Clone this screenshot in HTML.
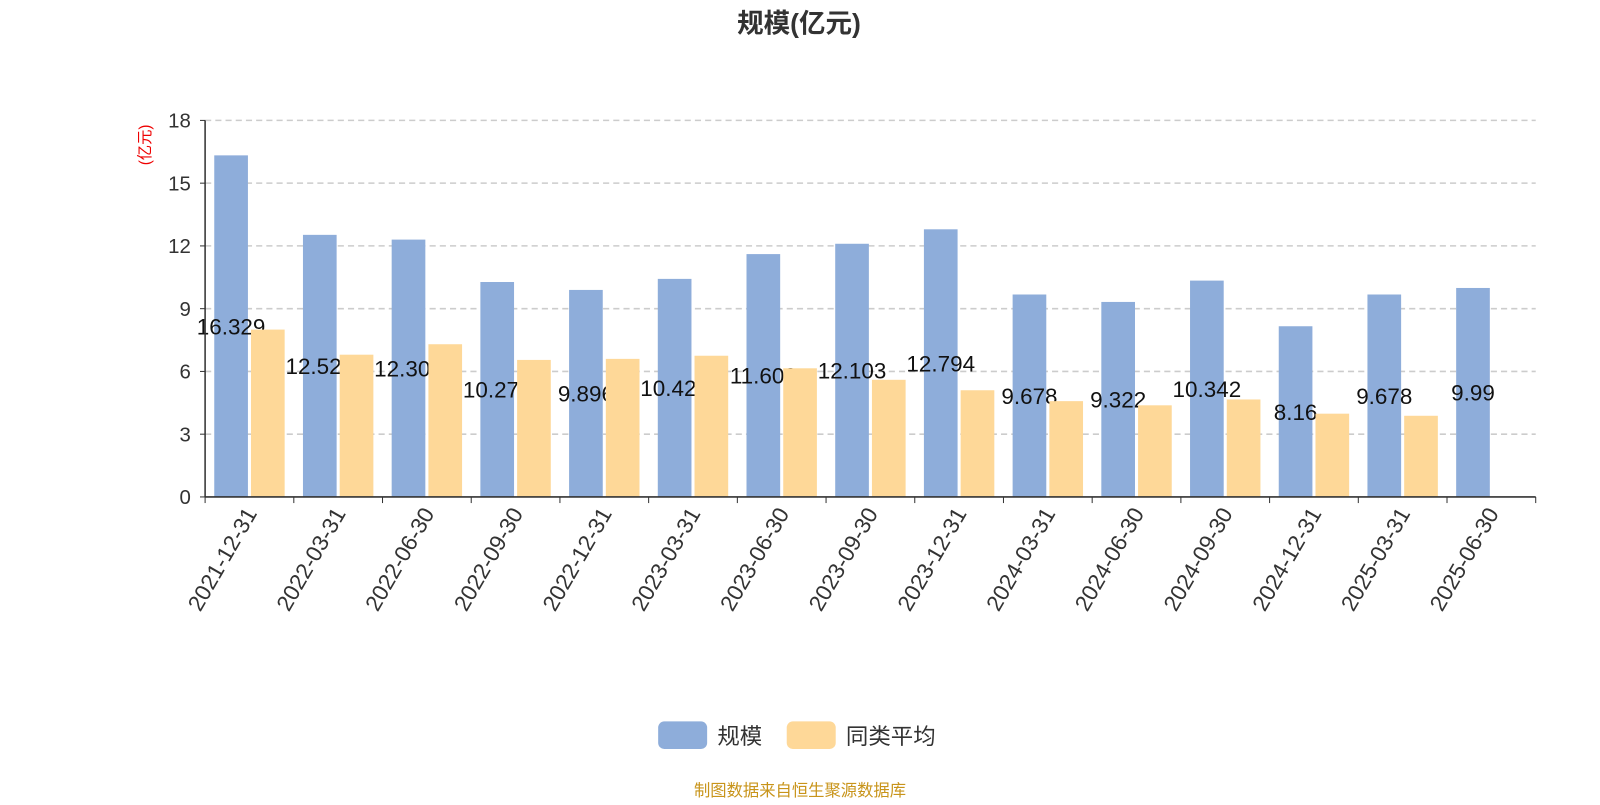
<!DOCTYPE html>
<html><head><meta charset="utf-8"><style>
body{margin:0;background:#fff;width:1600px;height:800px;overflow:hidden;font-family:"Liberation Sans","Noto Sans CJK SC",sans-serif}
</style></head><body>
<svg id="c" width="1600" height="800" viewBox="0 0 1568 784" xmlns="http://www.w3.org/2000/svg" font-family="Liberation Sans, Noto Sans CJK SC, sans-serif">
<text x="783" y="32" text-anchor="middle" font-size="26" font-weight="bold" fill="#333">规模(亿元)</text>
<text transform="translate(147,142) rotate(-90)" text-anchor="middle" font-size="15" fill="#e00">(亿元)</text>
<g id="grid"></g><g id="marks"></g><g id="axes"></g>
<g>
<rect x="645" y="707" width="48" height="27" rx="6" fill="#8eadda"/>
<text x="703" y="729" font-size="22" fill="#333">规模</text>
<rect x="771" y="707" width="48" height="27" rx="6" fill="#fed898"/>
<text x="829" y="729" font-size="22" fill="#333">同类平均</text>
</g>
<text x="784" y="780" text-anchor="middle" font-size="16" fill="#c8941a">制图数据来自恒生聚源数据库</text>
</svg>
<script>
const categories=["2021-12-31","2022-03-31","2022-06-30","2022-09-30","2022-12-31","2023-03-31","2023-06-30","2023-09-30","2023-12-31","2024-03-31","2024-06-30","2024-09-30","2024-12-31","2025-03-31","2025-06-30"];
const scaleValues=[16.329,12.529,12.302,10.275,9.896,10.424,11.609,12.103,12.794,9.678,9.322,10.342,8.16,9.678,9.99];
const avgValues=[8.0,6.8,7.3,6.55,6.6,6.75,6.15,5.6,5.1,4.58,4.38,4.66,3.98,3.88,null];
const yTicks=[0,3,6,9,12,15,18];
const NS="http://www.w3.org/2000/svg";
const X0=201,X1=1505,Y0=487,Y1=118,YMAX=18;
const band=(X1-X0)/categories.length;
function y(v){return Y0-(v/YMAX)*(Y0-Y1);}
function xb(i){return X0+i*band;}
function mk(t,a,p){const e=document.createElementNS(NS,t);for(const k in a)e.setAttribute(k,a[k]);p.appendChild(e);return e;}
const grid=document.getElementById('grid'),marks=document.getElementById('marks'),axes=document.getElementById('axes');
yTicks.forEach(t=>{
 if(t>0){const l=mk('line',{x1:X0,x2:X1,y1:y(t),y2:y(t),stroke:'#ccc','stroke-dasharray':'6,4','stroke-width':1.5},grid);
 
 }
 const tl=mk('text',{x:X0-14,y:y(t)+7,'text-anchor':'end','font-size':20,fill:'#333'},axes);tl.textContent=t;
 
 
 mk('line',{x1:X0-5,x2:X0,y1:y(t),y2:y(t),stroke:'#333'},axes);
});
mk('line',{x1:X0,x2:X0,y1:Y1,y2:Y0,stroke:'#333','stroke-width':1.5},axes);
mk('line',{x1:X0,x2:X1,y1:Y0,y2:Y0,stroke:'#333','stroke-width':1.5},axes);
for(let i=0;i<=categories.length;i++)mk('line',{x1:xb(i),x2:xb(i),y1:Y0,y2:Y0+6,stroke:'#333'},axes);
const bw=33;
categories.forEach((c,i)=>{
 const cx=xb(i)+band/2;
 const r=mk('rect',{x:cx-bw-1.5,y:y(scaleValues[i]),width:bw,height:Y0-y(scaleValues[i]),fill:'#8eadda'},marks);
 
 
 const tl=mk('text',{transform:`translate(${cx+8},${Y0+16}) rotate(-60)`,'text-anchor':'end','font-size':22,fill:'#333'},axes);tl.textContent=c;
 
 
});
categories.forEach((c,i)=>{
 const cx=xb(i)+band/2-bw/2-1.5;
 const t=mk('text',{x:cx,y:y(scaleValues[i]/2)+8,'text-anchor':'middle','font-size':22,fill:'#111'},marks);t.textContent=scaleValues[i];
 
 
});
categories.forEach((c,i)=>{
 if(avgValues[i]==null)return;
 const cx=xb(i)+band/2;
 const r=mk('rect',{x:cx+1.5,y:y(avgValues[i]),width:bw,height:Y0-y(avgValues[i]),fill:'#fed898'},marks);
 
 
});
</script>
</body></html>
